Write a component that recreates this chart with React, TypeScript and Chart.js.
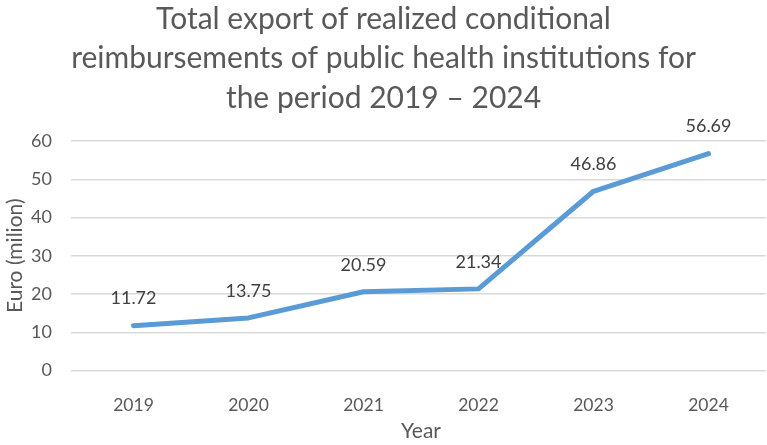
import React, { useEffect, useRef } from "react";
import { Chart, registerables } from "chart.js";

Chart.register(...registerables);

const titleLines = [
  "Total export of realized conditional",
  "reimbursements of public health institutions for",
  "the period 2019 – 2024",
];
const years = ["2019", "2020", "2021", "2022", "2023", "2024"];
const exportValues = [11.72, 13.75, 20.59, 21.34, 46.86, 56.69];
const yTicks = [0, 10, 20, 30, 40, 50, 60];

const FONT = "Lato, 'Open Sans', sans-serif";

// Draws the three-line heading above the plot
const headingPlugin = {
  id: "heading",
  afterDraw(chart: any) {
    const ctx = chart.ctx;
    ctx.save();
    ctx.fillStyle = "#595959";
    ctx.font = `30px ${FONT}`;
    ctx.textAlign = "center";
    ctx.textBaseline = "middle";
    const cx = chart.width / 2;
    titleLines.forEach((line, i) => {
      ctx.fillText(line, cx, 19 + i * 39.5);
    });
    ctx.restore();
  },
};

// Writes each point's value above it
const valueLabelPlugin = {
  id: "valueLabels",
  afterDatasetsDraw(chart: any) {
    const ctx = chart.ctx;
    const meta = chart.getDatasetMeta(0);
    ctx.save();
    ctx.fillStyle = "#404040";
    ctx.font = `18px ${FONT}`;
    ctx.textAlign = "center";
    ctx.textBaseline = "middle";
    meta.data.forEach((pt: any, i: number) => {
      ctx.fillText(exportValues[i].toFixed(2), pt.x, pt.y - 27);
    });
    ctx.restore();
  },
};

export default function App() {
  const canvasRef = useRef<HTMLCanvasElement>(null);

  useEffect(() => {
    document.body.style.margin = "0";
    const canvas = canvasRef.current;
    if (!canvas) return;
    const chart = new Chart(canvas, {
      type: "line",
      data: {
        labels: years,
        datasets: [
          {
            data: exportValues,
            borderColor: "#5B9BD5",
            backgroundColor: "#5B9BD5",
            borderWidth: 5,
            pointRadius: 0,
            tension: 0,
            borderCapStyle: "round",
            borderJoinStyle: "round",
          },
        ],
      },
      options: {
        responsive: false,
        animation: false,
        layout: { padding: { top: 141, bottom: 0, left: 0, right: 1 } },
        plugins: {
          legend: { display: false },
          title: { display: false },
          tooltip: { enabled: false },
        },
        scales: {
          x: {
            offset: true,
            grid: { display: false },
            border: { display: false },
            ticks: {
              color: "#595959",
              font: { family: FONT, size: 17.5 },
              padding: 16,
            },
            title: {
              display: true,
              text: "Year",
              color: "#595959",
              font: { family: FONT, size: 21 },
              padding: { top: 0, bottom: 1 },
            },
            afterFit: (s: any) => {
              s.height = 74.5;
            },
          },
          y: {
            min: 0,
            max: 60,
            afterBuildTicks: (s: any) => {
              s.ticks = yTicks.map((v) => ({ value: v }));
            },
            grid: {
              color: "#d9d9d9",
              lineWidth: 1.5,
              drawTicks: true,
              tickLength: 5,
            },
            border: { display: false },
            ticks: {
              color: "#595959",
              font: { family: FONT, size: 18 },
              padding: 19,
            },
            title: {
              display: true,
              text: "Euro (milion)",
              color: "#595959",
              font: { family: FONT, size: 21 },
              padding: { top: 3, bottom: 0 },
            },
            afterFit: (s: any) => {
              s.width = 76;
            },
          },
        },
      },
      plugins: [headingPlugin, valueLabelPlugin],
    });
    return () => chart.destroy();
  }, []);

  return (
    <div style={{ width: 767, height: 445, background: "#ffffff" }}>
      <canvas ref={canvasRef} width={767} height={445} />
    </div>
  );
}
